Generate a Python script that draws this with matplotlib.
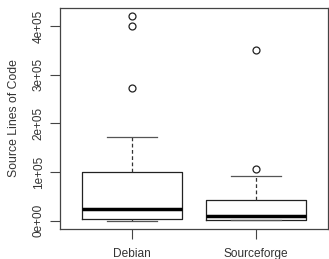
import matplotlib
matplotlib.use("Agg")
import matplotlib.pyplot as plt

categories = ["Debian", "Sourceforge"]
whisker_low = [0, 1000]
q1 = [3500, 2000]
medians = [24500, 9600]
q3 = [101000, 43000]
whisker_high = [172000, 92500]
outliers = [[420000, 400000, 272000], [351000, 106000]]
yticks = [0, 100000, 200000, 300000, 400000]
ytick_labels = ["0e+00", "1e+05", "2e+05", "3e+05", "4e+05"]

plt.rcParams['font.family'] = ['Liberation Sans', 'DejaVu Sans']
txt = '#333333'

fig = plt.figure(figsize=(3.29, 2.59), dpi=100)
ax = fig.add_axes([60/329, (259-229)/259, (328-60)/329, (229-8)/259])

stats = []
for i, name in enumerate(categories):
    stats.append(dict(label=name, whislo=whisker_low[i], q1=q1[i], med=medians[i],
                      q3=q3[i], whishi=whisker_high[i], fliers=outliers[i]))

ax.bxp(stats, positions=[1, 2], widths=0.8, showfliers=True,
       boxprops=dict(color='#222222', linewidth=0.9),
       medianprops=dict(color='black', linewidth=2.5, solid_capstyle='butt'),
       whiskerprops=dict(color='#333333', linewidth=0.9, linestyle=(0, (3, 2))),
       capprops=dict(color='#555555', linewidth=0.9),
       capwidths=0.4,
       flierprops=dict(marker='o', markerfacecolor='none', markeredgecolor='#222222',
                       markersize=5, markeredgewidth=0.9))

ax.set_xlim(0.42, 2.58)
ax.set_ylim(-16800, 436800)
ax.set_yticks(yticks)
ax.set_yticklabels(ytick_labels, rotation=90, va='center', fontsize=8.5, color=txt)
ax.set_xticks([1, 2])
ax.set_xticklabels(categories, fontsize=8.6, color=txt)
ax.tick_params(axis='both', length=7, width=0.8, color='#444444', direction='out')
ax.tick_params(axis='y', pad=4)
ax.tick_params(axis='x', pad=6.5)
for s in ax.spines.values():
    s.set_color('#444444')
    s.set_linewidth(0.9)
ax.set_ylabel("Source Lines of Code", fontsize=8.8, labelpad=9, color=txt)

fig.savefig("out.png", dpi=100)
